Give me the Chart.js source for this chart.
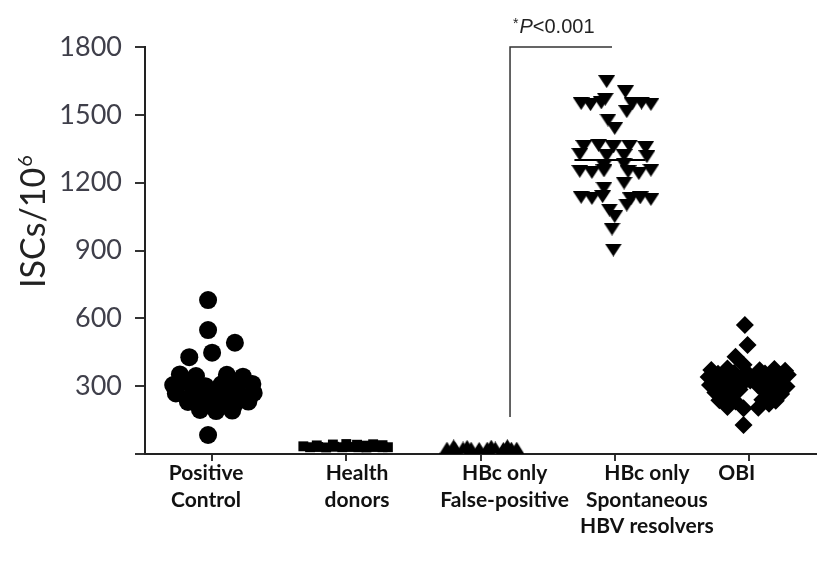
<!DOCTYPE html>
<html>
<head>
<meta charset="utf-8">
<title>ISCs per 10^6 cells by group</title>
<script src="https://cdn.jsdelivr.net/npm/chart.js@4.4.1/dist/chart.umd.min.js"></script>
<style>
  html, body { margin: 0; padding: 0; background: #fff; }
  #wrap { width: 825px; height: 563px; }
</style>
</head>
<body>
<div id="wrap"><canvas id="c" width="825" height="563"></canvas></div>
<script>
// Group names (multi-line axis labels)
const categories = [
  ['Positive', 'Control'],
  ['Health', 'donors'],
  ['HBc only', 'False-positive'],
  ['HBc only', 'Spontaneous', 'HBV resolvers'],
  ['OBI']
];

// Y-axis tick values
const yTickValues = [0, 300, 600, 900, 1200, 1500, 1800];

// ISCs / 10^6 per subject, with the horizontal spread of each dot within its column
const positiveControl = [681, 548, 492, 428, 448, 352, 345, 350, 342, 305, 312, 300, 308, 298, 310,
  268, 262, 275, 258, 265, 270, 230, 225, 235, 222, 232, 195, 190, 192, 84];
const positiveControlSpread = [-0.03, -0.03, 0.17, -0.17, 0.0, -0.24, -0.12, 0.11, 0.23, -0.29, -0.17, -0.05, 0.07, 0.18, 0.3,
  -0.27, -0.15, -0.03, 0.08, 0.2, 0.31, -0.18, -0.06, 0.06, 0.17, 0.27, -0.09, 0.03, 0.15, -0.03];

const healthDonors = [30, 31, 29, 32, 30, 31, 30, 29, 31, 30, 30, 42, 44, 41, 43, 34, 38, 37, 39];
const healthDonorsSpread = [-0.27, -0.21, -0.15, -0.09, -0.03, 0.03, 0.09, 0.15, 0.21, 0.27, 0.31, -0.1, 0.0, 0.08, 0.2, -0.32, -0.22, 0.14, 0.27];

const falsePositive = [28, 27, 29, 28, 27, 28, 29, 27, 28, 28, 38, 36, 37, 39];
const falsePositiveSpread = [-0.25, -0.19, -0.13, -0.07, -0.01, 0.05, 0.11, 0.17, 0.23, 0.27, -0.2, -0.1, 0.08, 0.2];

const resolvers = [1647, 1602, 1569,
  1550, 1545, 1553, 1548, 1552, 1546,
  1514, 1477, 1440,
  1360, 1365, 1358, 1362, 1355,
  1325, 1318, 1320, 1315,
  1275, 1282,
  1250, 1245, 1252, 1248, 1240, 1255,
  1198, 1176,
  1135, 1130, 1138, 1128, 1133, 1126,
  1101, 1079, 1050, 995, 902];
const resolversSpread = [-0.06, 0.08, -0.07,
  -0.25, -0.18, -0.1, 0.13, 0.2, 0.27,
  0.09, -0.05, 0.0,
  -0.23, -0.12, -0.01, 0.11, 0.23,
  -0.26, -0.06, 0.07, 0.24,
  -0.08, 0.07,
  -0.26, -0.17, -0.08, 0.1, 0.18, 0.27,
  0.07, -0.08,
  -0.25, -0.17, -0.09, 0.12, 0.19, 0.27,
  0.09, -0.04, 0.0, -0.02, -0.01];
const resolversMedian = 1300;

const obi = [570, 482, 430, 128,
  372, 378, 395, 370, 376, 368,
  355, 358, 352, 356, 350,
  340, 345, 335, 342, 338, 350,
  322, 318, 325, 320, 316,
  305, 300, 310, 302, 308, 298,
  288, 285, 290,
  272, 268, 275, 265,
  255, 258,
  238, 232, 240, 235,
  220, 222,
  208, 202, 205];
const obiSpread = [-0.03, -0.01, -0.1, -0.04,
  -0.28, -0.16, -0.04, 0.08, 0.19, 0.27,
  -0.23, -0.11, 0.0, 0.12, 0.24,
  -0.3, -0.18, -0.06, 0.06, 0.18, 0.29,
  -0.24, -0.11, 0.01, 0.13, 0.24,
  -0.29, -0.17, -0.05, 0.07, 0.19, 0.28,
  -0.2, -0.07, 0.18,
  -0.25, -0.13, 0.12, 0.24,
  -0.18, 0.17,
  -0.22, -0.1, 0.1, 0.2,
  -0.15, 0.15,
  -0.16, -0.04, 0.07];

// Significance annotation between the false-positive and resolver columns
const pLabel = { star: '*', italic: 'P', rest: '<0.001' };

// ---- layout helpers (not data) ----
const labelShift = [-0.045, 0.08, 0.18, 0.24, -0.09];
const bracket = { x: 2.22, xEnd: 2.98, yLow: 164, yTop: 1800 };

function column(values, spread, idx) {
  return values.map((v, i) => ({ x: idx + spread[i], y: v }));
}

function triangleMarker(w, h, down) {
  const c = document.createElement('canvas');
  c.width = w; c.height = h;
  const g = c.getContext('2d');
  g.fillStyle = '#000';
  g.beginPath();
  if (down) { g.moveTo(0, 0); g.lineTo(w, 0); g.lineTo(w / 2, h); }
  else { g.moveTo(w / 2, 0); g.lineTo(w, h); g.lineTo(0, h); }
  g.closePath();
  g.fill();
  return c;
}
const downTri = triangleMarker(17, 13, true);
const upTri = triangleMarker(15, 12, false);

const dotBase = { backgroundColor: '#000', borderColor: '#000', borderWidth: 0 };

const overlay = {
  id: 'overlay',
  afterDraw(chart) {
    const ctx = chart.ctx;
    const xs = chart.scales.x, ys = chart.scales.y;
    // p-value text
    ctx.save();
    ctx.fillStyle = '#222';
    ctx.textBaseline = 'alphabetic';
    let px = xs.getPixelForValue(bracket.x) + 3;
    const py = ys.getPixelForValue(bracket.yTop) - 14;
    ctx.font = '14px "Liberation Sans", Arial, sans-serif';
    ctx.fillText(pLabel.star, px, py - 5);
    px += ctx.measureText(pLabel.star).width + 1;
    ctx.font = 'italic 20px "Liberation Sans", Arial, sans-serif';
    ctx.fillText(pLabel.italic, px, py);
    px += ctx.measureText(pLabel.italic).width;
    ctx.font = '20px "Liberation Sans", Arial, sans-serif';
    ctx.fillText(pLabel.rest, px, py);
    ctx.restore();

    // y-axis title with superscript
    ctx.save();
    const main = 'ISCs/10', sup = '6';
    ctx.translate(45, 222);
    ctx.rotate(-Math.PI / 2);
    ctx.fillStyle = '#222';
    ctx.textBaseline = 'alphabetic';
    ctx.font = '34px Lato, sans-serif';
    const w1 = ctx.measureText(main).width;
    ctx.font = '20px Lato, sans-serif';
    const w2 = ctx.measureText(sup).width;
    const start = -(w1 + w2) / 2;
    ctx.font = '34px Lato, sans-serif';
    ctx.fillText(main, start, 0);
    ctx.font = '20px Lato, sans-serif';
    ctx.fillText(sup, start + w1 + 1, -13);
    ctx.restore();
  }
};

new Chart(document.getElementById('c'), {
  type: 'scatter',
  data: {
    datasets: [
      Object.assign({ data: column(positiveControl, positiveControlSpread, 0), pointStyle: 'circle', pointRadius: 9 }, dotBase),
      Object.assign({ data: column(healthDonors, healthDonorsSpread, 1), pointStyle: 'rect', pointRadius: 7 }, dotBase),
      Object.assign({ data: column(falsePositive, falsePositiveSpread, 2), pointStyle: upTri, pointRadius: 8 }, dotBase),
      Object.assign({ data: column(resolvers, resolversSpread, 3), pointStyle: downTri, pointRadius: 9 }, dotBase),
      Object.assign({ data: column(obi, obiSpread, 4), pointStyle: 'rectRot', pointRadius: 9 }, dotBase),
      {
        data: [{ x: 3 - 0.3, y: resolversMedian }, { x: 3 + 0.23, y: resolversMedian }],
        showLine: true, pointRadius: 0, borderColor: '#000', borderWidth: 2
      },
      {
        data: [{ x: bracket.x, y: bracket.yLow }, { x: bracket.x, y: bracket.yTop }, { x: bracket.xEnd, y: bracket.yTop }],
        showLine: true, pointRadius: 0, borderColor: '#333', borderWidth: 1.5, clip: false
      }
    ]
  },
  options: {
    responsive: false,
    animation: false,
    events: [],
    devicePixelRatio: 1,
    layout: { padding: { top: 47, right: 5, left: 0, bottom: 0 } },
    plugins: { legend: { display: false }, tooltip: { enabled: false } },
    scales: {
      x: {
        type: 'linear', position: 'bottom', min: -0.5, max: 4.5, weight: 0,
        afterBuildTicks: s => { s.ticks = categories.map((c, i) => ({ value: i })); },
        afterFit: s => { s.height = 6; },
        ticks: { display: false },
        grid: { drawOnChartArea: false, drawTicks: true, tickLength: 7, color: '#333', lineWidth: 2 },
        border: { display: true, color: '#222', width: 2 }
      },
      xl: {
        type: 'linear', position: 'bottom', min: -0.5, max: 4.5, weight: 1,
        afterBuildTicks: s => { s.ticks = categories.map((c, i) => ({ value: i + labelShift[i] })); },
        afterFit: s => { s.height = 103; },
        ticks: {
          autoSkip: false, maxRotation: 0, padding: 0, color: '#111',
          font: { family: 'Lato, sans-serif', size: 21, weight: 'bold', lineHeight: 1.27 },
          callback: (v, i) => categories[i]
        },
        grid: { display: false, drawTicks: false },
        border: { display: false }
      },
      y: {
        type: 'linear', min: 0, max: 1800,
        afterBuildTicks: s => { s.ticks = yTickValues.map(v => ({ value: v })); },
        afterFit: s => { s.width = 145; },
        ticks: {
          padding: 13, color: '#3f3f4a',
          font: { family: 'Lato, sans-serif', size: 27 },
          callback: v => (v === 0 ? '' : String(v))
        },
        grid: { drawOnChartArea: false, drawTicks: true, tickLength: 10, color: '#333', lineWidth: 2 },
        border: { display: true, color: '#222', width: 2 }
      }
    }
  },
  plugins: [overlay]
});
</script>
</body>
</html>
